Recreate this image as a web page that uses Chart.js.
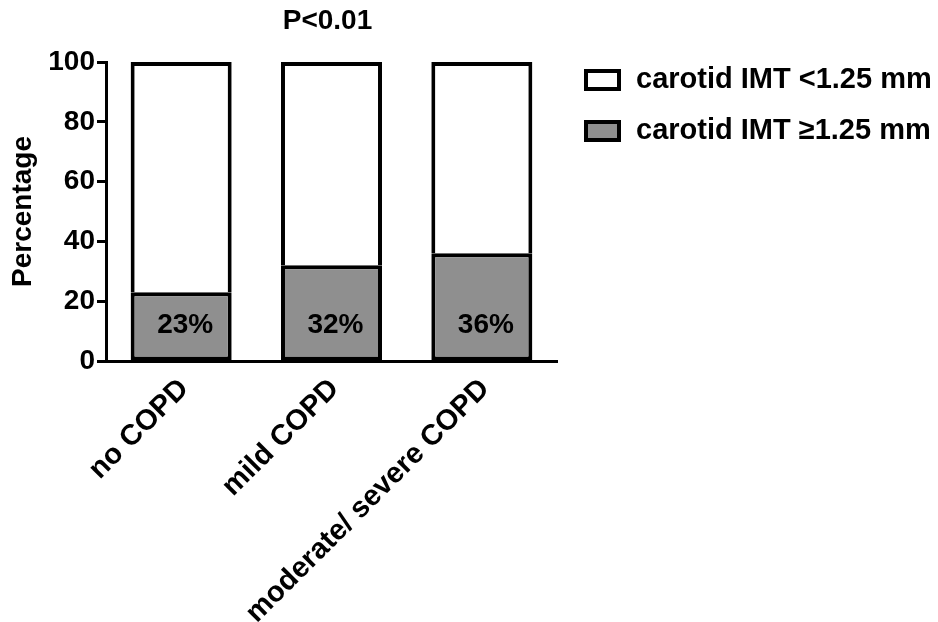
<!DOCTYPE html>
<html>
<head>
<meta charset="utf-8">
<title>Carotid IMT by COPD status</title>
<script src="https://cdn.jsdelivr.net/npm/chart.js@4.4.1/dist/chart.umd.min.js"></script>
<style>
  html, body { margin: 0; padding: 0; background: #ffffff; }
  #chart { display: block; }
</style>
</head>
<body>
<canvas id="chart" width="938" height="622"></canvas>
<script>
// Groups along the x axis
const categories = ['no COPD', 'mild COPD', 'moderate/ severe COPD'];

// Share of patients (%) per group
const imtHighPct = [23, 32, 36];   // carotid IMT >= 1.25 mm
const imtLowPct = [77, 68, 64];    // carotid IMT < 1.25 mm

// Series names
const seriesLow = 'carotid IMT <1.25 mm';
const seriesHigh = 'carotid IMT \u22651.25 mm';

// Y axis tick values
const yTickValues = [0, 20, 40, 60, 80, 100];

const pValueText = 'P<0.01';

const FONT = 'Liberation Sans, Arial, Helvetica, sans-serif';
const GREY = '#8f8f8f';

Chart.defaults.font.family = FONT;
Chart.defaults.font.weight = 'bold';
Chart.defaults.color = '#000000';

// Percent labels inside the grey segments, title and legend
const annotations = {
  id: 'annotations',
  afterDatasetsDraw(chart) {
    const ctx = chart.ctx;
    const yScale = chart.scales.y;
    const area = chart.chartArea;
    const base = yScale.getPixelForValue(0);

    ctx.save();
    ctx.fillStyle = '#000000';

    // percentages in the bars
    const metaHigh = chart.getDatasetMeta(0);
    ctx.font = 'bold 28px ' + FONT;
    ctx.textAlign = 'center';
    ctx.textBaseline = 'middle';
    metaHigh.data.forEach((bar, i) => {
      const v = chart.data.datasets[0].data[i];
      ctx.fillText(v + '%', bar.x + 4, base - 36);
    });

    // significance above the bars
    ctx.font = 'bold 28px ' + FONT;
    ctx.textAlign = 'center';
    ctx.textBaseline = 'alphabetic';
    ctx.fillText(pValueText, (area.left + area.right) / 2 - 4, 29);

    // legend: white series first, grey second
    const rows = [1, 0];
    ctx.textAlign = 'left';
    rows.forEach((dsIndex, r) => {
      const ds = chart.data.datasets[dsIndex];
      const top = 69 + r * 51;
      ctx.fillStyle = ds.backgroundColor;
      ctx.fillRect(584, top, 37, 22);
      ctx.lineWidth = 4;
      ctx.strokeStyle = '#000000';
      ctx.strokeRect(586, top + 2, 33, 18);
      ctx.fillStyle = '#000000';
      ctx.font = 'bold 29px ' + FONT;
      ctx.fillText(ds.label, 636, top + 19);
    });
    ctx.restore();
  }
};

new Chart(document.getElementById('chart'), {
  type: 'bar',
  data: {
    labels: categories,
    datasets: [
      {
        label: seriesHigh,
        data: imtHighPct,
        backgroundColor: GREY,
        borderColor: '#000000',
        borderWidth: 4,
        borderSkipped: false,
        barPercentage: 0.672,
        categoryPercentage: 1.0
      },
      {
        label: seriesLow,
        data: imtLowPct,
        backgroundColor: '#ffffff',
        borderColor: '#000000',
        borderWidth: 4,
        borderSkipped: 'start',
        barPercentage: 0.672,
        categoryPercentage: 1.0
      }
    ]
  },
  options: {
    responsive: false,
    animation: false,
    devicePixelRatio: 1,
    layout: { padding: { top: 62, right: 381, bottom: 0, left: 0 } },
    plugins: {
      legend: { display: false },
      title: { display: false },
      tooltip: { enabled: false }
    },
    scales: {
      x: {
        stacked: true,
        grid: { display: false, drawTicks: false },
        border: { display: true, color: '#000000', width: 3 },
        ticks: {
          autoSkip: false,
          minRotation: 45,
          maxRotation: 45,
          padding: 11,
          labelOffset: 3,
          color: '#000000',
          font: { size: 29, weight: 'bold' }
        },
        afterFit(scale) { scale.height = 261; }
      },
      y: {
        stacked: true,
        min: 0,
        max: 100,
        afterBuildTicks(scale) {
          scale.ticks = yTickValues.map(v => ({ value: v }));
        },
        grid: {
          display: true,
          drawOnChartArea: false,
          drawTicks: true,
          tickLength: 9,
          tickWidth: 3,
          tickColor: '#000000'
        },
        border: { display: true, color: '#000000', width: 3 },
        ticks: {
          padding: 2,
          color: '#000000',
          font: { size: 28, weight: 'bold' }
        },
        title: {
          display: true,
          text: 'Percentage',
          color: '#000000',
          padding: { top: 6, bottom: 0 },
          font: { size: 28, weight: 'bold' }
        },
        afterFit(scale) { scale.width = 106; }
      }
    }
  },
  plugins: [annotations]
});
</script>
</body>
</html>
